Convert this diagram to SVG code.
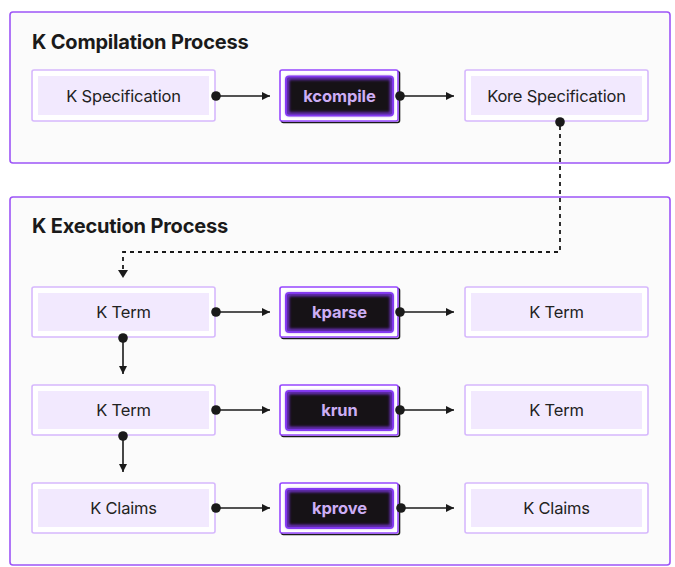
<svg xmlns="http://www.w3.org/2000/svg" width="675" height="567" viewBox="0 0 675 567">
<defs>
<style>
.panel{fill:#fbfbfb;stroke:#9d55f7;stroke-width:1.6}
.title{font-family:Inter,"Liberation Sans",sans-serif;font-weight:700;font-size:20px;fill:#1a1a1a;letter-spacing:-0.2px}
.dOut{fill:#ffffff;stroke:#d6b8fd;stroke-width:1.6}
.dIn{fill:#f2e9fe}
.dTxt{font-family:Inter,"Liberation Sans",sans-serif;font-size:16.5px;fill:#222;text-anchor:middle;letter-spacing:-0.2px}
.tShadow{fill:none;stroke:#1a1a1a;stroke-width:1.6}
.tOut{fill:#ffffff;stroke:#9747ff;stroke-width:1.6}
.tIn{fill:#161216;stroke:#8a3ffc;stroke-width:2}
.tGlow{fill:none;stroke:#7a35e0;stroke-width:3;filter:url(#glow)}
.tTxt{font-family:Inter,"Liberation Sans",sans-serif;font-weight:700;font-size:16.5px;fill:#cdaef5;text-anchor:middle;letter-spacing:-0.1px}
.edge{fill:none;stroke:#1a1a1a;stroke-width:1.6}
.dash{fill:none;stroke:#1a1a1a;stroke-width:1.8;stroke-dasharray:4 4}
.dot{fill:#1a1a1a}
</style>
<marker id="ah" viewBox="0 0 10 10" refX="10" refY="5" markerWidth="8" markerHeight="8" markerUnits="userSpaceOnUse" orient="auto">
<path d="M0,0 L10,5 L0,10 Z" fill="#1a1a1a"/>
</marker>
<filter id="glow" x="-20%" y="-30%" width="140%" height="160%">
<feGaussianBlur stdDeviation="1.8"/>
</filter>
</defs>

<g id="panel-compile">
<rect class="panel" x="10" y="12" width="660" height="151" rx="3"/>
<text class="title" x="32" y="49">K Compilation Process</text>
</g>
<g id="panel-exec">
<rect class="panel" x="10" y="197" width="660" height="368" rx="3"/>
<text class="title" x="32" y="233">K Execution Process</text>
</g>

<g id="k-spec">
<rect class="dOut" x="32" y="70" width="183" height="51" rx="2"/>
<rect class="dIn" x="38" y="76" width="171" height="39"/>
<text class="dTxt" x="123.5" y="101.5">K Specification</text>
</g>
<g id="kcompile">
<rect class="tShadow" x="281.5" y="71.5" width="118" height="51" rx="2"/>
<rect class="tOut" x="280" y="70" width="118" height="51" rx="2"/>
<rect class="tIn" x="286" y="76.5" width="107" height="39" rx="3"/>
<rect class="tGlow" x="287.5" y="78" width="104" height="36" rx="2"/>
<text class="tTxt" x="339.5" y="101.5">kcompile</text>
</g>
<g id="kore-spec">
<rect class="dOut" x="465" y="70" width="183" height="51" rx="2"/>
<rect class="dIn" x="471" y="76" width="171" height="39"/>
<text class="dTxt" x="556.5" y="101.5">Kore Specification</text>
</g>

<g id="kterm-1">
<rect class="dOut" x="32" y="287" width="183" height="50" rx="2"/>
<rect class="dIn" x="38" y="293" width="171" height="38"/>
<text class="dTxt" x="123.5" y="317.5">K Term</text>
</g>
<g id="kparse">
<rect class="tShadow" x="281.5" y="288.5" width="118" height="50" rx="2"/>
<rect class="tOut" x="280" y="287" width="118" height="50" rx="2"/>
<rect class="tIn" x="286" y="293" width="107" height="39" rx="3"/>
<rect class="tGlow" x="287.5" y="294.5" width="104" height="36" rx="2"/>
<text class="tTxt" x="339.5" y="317.5">kparse</text>
</g>
<g id="kterm-1-out">
<rect class="dOut" x="465" y="287" width="183" height="50" rx="2"/>
<rect class="dIn" x="471" y="293" width="171" height="38"/>
<text class="dTxt" x="556.5" y="317.5">K Term</text>
</g>

<g id="kterm-2">
<rect class="dOut" x="32" y="385" width="183" height="50" rx="2"/>
<rect class="dIn" x="38" y="391" width="171" height="38"/>
<text class="dTxt" x="123.5" y="415.5">K Term</text>
</g>
<g id="krun">
<rect class="tShadow" x="281.5" y="386.5" width="118" height="50" rx="2"/>
<rect class="tOut" x="280" y="385" width="118" height="50" rx="2"/>
<rect class="tIn" x="286" y="391" width="107" height="39" rx="3"/>
<rect class="tGlow" x="287.5" y="392.5" width="104" height="36" rx="2"/>
<text class="tTxt" x="339.5" y="415.5">krun</text>
</g>
<g id="kterm-2-out">
<rect class="dOut" x="465" y="385" width="183" height="50" rx="2"/>
<rect class="dIn" x="471" y="391" width="171" height="38"/>
<text class="dTxt" x="556.5" y="415.5">K Term</text>
</g>

<g id="kclaims">
<rect class="dOut" x="32" y="483" width="183" height="50" rx="2"/>
<rect class="dIn" x="38" y="489" width="171" height="38"/>
<text class="dTxt" x="123.5" y="513.5">K Claims</text>
</g>
<g id="kprove">
<rect class="tShadow" x="281.5" y="484.5" width="118" height="50" rx="2"/>
<rect class="tOut" x="280" y="483" width="118" height="50" rx="2"/>
<rect class="tIn" x="286" y="489" width="107" height="39" rx="3"/>
<rect class="tGlow" x="287.5" y="490.5" width="104" height="36" rx="2"/>
<text class="tTxt" x="339.5" y="513.5">kprove</text>
</g>
<g id="kclaims-out">
<rect class="dOut" x="465" y="483" width="183" height="50" rx="2"/>
<rect class="dIn" x="471" y="489" width="171" height="38"/>
<text class="dTxt" x="556.5" y="513.5">K Claims</text>
</g>

<g id="connectors">
<line class="edge" x1="216" y1="96" x2="270" y2="96" marker-end="url(#ah)"/>
<circle class="dot" cx="216" cy="96" r="4.8"/>
<line class="edge" x1="400" y1="96" x2="454" y2="96" marker-end="url(#ah)"/>
<circle class="dot" cx="400" cy="96" r="4.8"/>
<path class="dash" d="M560,126 V252 H123 V270"/>
<circle class="dot" cx="560" cy="122" r="4.8"/>
<path d="M118,270 L128,270 L123,278 Z" fill="#1a1a1a"/>

<line class="edge" x1="216" y1="312" x2="270" y2="312" marker-end="url(#ah)"/>
<circle class="dot" cx="216" cy="312" r="4.8"/>
<line class="edge" x1="400" y1="312" x2="454" y2="312" marker-end="url(#ah)"/>
<circle class="dot" cx="400" cy="312" r="4.8"/>
<line class="edge" x1="123" y1="338" x2="123" y2="374" marker-end="url(#ah)"/>
<circle class="dot" cx="123" cy="338" r="4.8"/>

<line class="edge" x1="216" y1="410" x2="270" y2="410" marker-end="url(#ah)"/>
<circle class="dot" cx="216" cy="410" r="4.8"/>
<line class="edge" x1="400" y1="410" x2="454" y2="410" marker-end="url(#ah)"/>
<circle class="dot" cx="400" cy="410" r="4.8"/>
<line class="edge" x1="123" y1="436" x2="123" y2="472" marker-end="url(#ah)"/>
<circle class="dot" cx="123" cy="436" r="4.8"/>

<line class="edge" x1="216" y1="508" x2="270" y2="508" marker-end="url(#ah)"/>
<circle class="dot" cx="216" cy="508" r="4.8"/>
<line class="edge" x1="401" y1="508" x2="454" y2="508" marker-end="url(#ah)"/>
<circle class="dot" cx="401" cy="508" r="4.8"/>
</g>
</svg>
